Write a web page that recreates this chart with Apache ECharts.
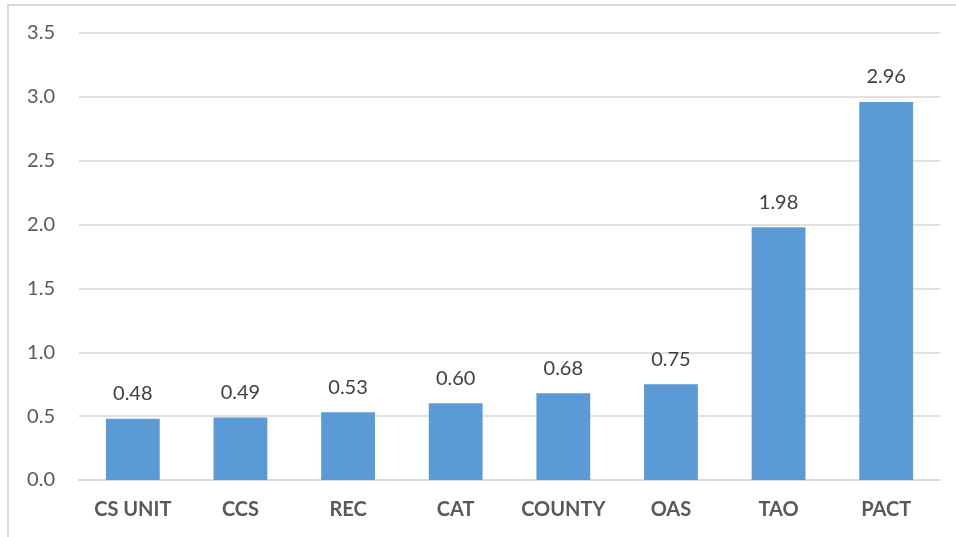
<!DOCTYPE html>
<html>
<head>
<meta charset="utf-8">
<script src="https://cdn.jsdelivr.net/npm/echarts@6/dist/echarts.min.js"></script>
<style>
  html, body { margin: 0; padding: 0; background: #fff; }
  #chart { width: 956px; height: 537px; }
</style>
</head>
<body>
<div id="chart"></div>
<script>
// Agencies along the x axis and their values
const categories = ['CS UNIT', 'CCS', 'REC', 'CAT', 'COUNTY', 'OAS', 'TAO', 'PACT'];
const values = [0.48, 0.49, 0.53, 0.60, 0.68, 0.75, 1.98, 2.96];
const yTicks = [0, 0.5, 1.0, 1.5, 2.0, 2.5, 3.0, 3.5];

const chart = echarts.init(document.getElementById('chart'), null, { renderer: 'canvas' });

chart.setOption({
  backgroundColor: '#ffffff',
  animation: false,
  textStyle: { fontFamily: 'Lato, "Open Sans", sans-serif' },
  graphic: [
    // outer chart-area frame (left and top edges visible)
    {
      type: 'polyline',
      shape: { points: [[8, 537], [8, 5], [956, 5]] },
      style: { stroke: '#d9d9d9', lineWidth: 2, fill: null },
      silent: true
    }
  ],
  grid: { left: 79, right: 16, top: 33, bottom: 57, containLabel: false },
  xAxis: {
    type: 'category',
    data: categories,
    axisLine: { show: true, lineStyle: { color: '#d9d9d9', width: 1.5 } },
    axisTick: { show: false },
    axisLabel: {
      interval: 0,
      hideOverlap: false,
      color: '#595959',
      fontSize: 20,
      fontWeight: 'bold',
      margin: 20,
      fontFamily: 'Lato, sans-serif'
    }
  },
  yAxis: {
    type: 'value',
    min: yTicks[0],
    max: yTicks[yTicks.length - 1],
    interval: 0.5,
    axisLine: { show: false },
    axisTick: { show: false },
    splitLine: { lineStyle: { color: '#d9d9d9', width: 1.5 } },
    axisLabel: {
      color: '#595959',
      fontSize: 20,
      margin: 24,
      formatter: v => v.toFixed(1)
    }
  },
  series: [{
    type: 'bar',
    data: values,
    barWidth: '50%',
    itemStyle: { color: '#5b9bd5' },
    label: {
      show: true,
      position: 'top',
      distance: 15,
      color: '#404040',
      fontSize: 20,
      formatter: p => p.value.toFixed(2)
    }
  }]
});
</script>
</body>
</html>
